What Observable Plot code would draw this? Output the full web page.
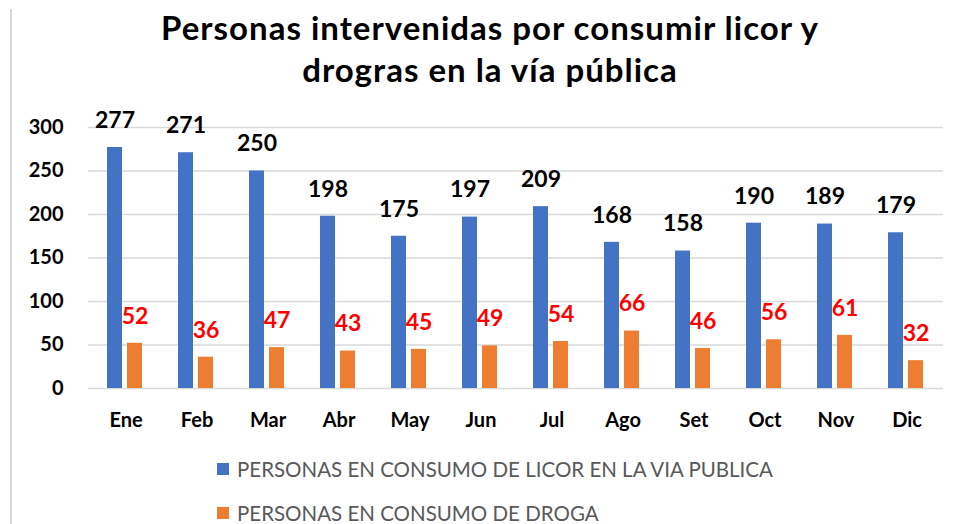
<!DOCTYPE html>
<html>
<head>
<meta charset="utf-8">
<script src="https://cdn.jsdelivr.net/npm/d3@7"></script>
<script src="https://cdn.jsdelivr.net/npm/@observablehq/plot@0.6"></script>
<style>
  html, body { margin: 0; padding: 0; background: #fff; }
  body { width: 961px; height: 524px; overflow: hidden; position: relative; font-family: Lato, "Open Sans", sans-serif; }
  #frame { position: absolute; left: 10px; top: 9px; width: 2px; height: 520px; background: #d9d9d9; }
  #title { position: absolute; left: 0; top: 6px; width: 980px; text-align: center; font-weight: bold; font-size: 33px; letter-spacing: 1px; line-height: 42px; color: #000; }
  #chart { position: absolute; left: 0; top: 100px; }
  #legend { position: absolute; left: 217px; top: 447px; font-size: 20.5px; color: #595959; }
  .row { height: 44px; display: flex; align-items: center; }
  .row span { line-height: 20px; }
  .sw { width: 12px; height: 12px; margin-right: 8px; }
</style>
</head>
<body>
<div id="frame"></div>
<div id="title">Personas intervenidas por consumir licor y<br>drogras en la vía pública</div>
<div id="chart"></div>
<div id="legend"></div>
<script>
const months = ["Ene","Feb","Mar","Abr","May","Jun","Jul","Ago","Set","Oct","Nov","Dic"];
const licor = [277,271,250,198,175,197,209,168,158,190,189,179];
const droga = [52,36,47,43,45,49,54,66,46,56,61,32];
const series = ["PERSONAS EN CONSUMO DE LICOR EN LA VIA PUBLICA", "PERSONAS EN CONSUMO DE DROGA"];
const colors = ["#4472C4", "#ED7D31"];
const labelColors = ["#000000", "#FF0000"];
const yTicks = [0, 50, 100, 150, 200, 250, 300];

const licorData = months.map((m, i) => ({month: m, value: licor[i]}));
const drogaData = months.map((m, i) => ({month: m, value: droga[i]}));

const chart = Plot.plot({
  width: 961,
  height: 333,
  marginTop: 27,
  marginBottom: 45,
  marginLeft: 88,
  marginRight: 18,
  style: {fontFamily: "Lato, sans-serif", background: "transparent"},
  x: {domain: months, padding: 0, label: null, axis: null},
  y: {domain: [0, 300], label: null, axis: null},
  marks: [
    Plot.gridY(yTicks, {stroke: "#d9d9d9", strokeOpacity: 1, strokeWidth: 1.5}),
    Plot.barY(licorData, {x: "month", y: "value", fill: colors[0], insetLeft: 17, insetRight: 39}),
    Plot.barY(drogaData, {x: "month", y: "value", fill: colors[1], insetLeft: 37, insetRight: 19}),
    Plot.text(licorData, {x: "month", y: "value", text: d => String(d.value), dx: -11, dy: -27,
      fill: labelColors[0], fontSize: 23, fontWeight: "bold", lineAnchor: "middle"}),
    Plot.text(drogaData, {x: "month", y: "value", text: d => String(d.value), dx: 9, dy: -27,
      fill: labelColors[1], fontSize: 23, fontWeight: "bold", lineAnchor: "middle"}),
    Plot.axisY(yTicks, {anchor: "left", tickSize: 0, tickPadding: 25, fontSize: 20, fontWeight: "bold", fill: "#000", label: null}),
    Plot.axisX({anchor: "bottom", tickSize: 0, tickPadding: 24, fontSize: 20, fontWeight: "bold", fill: "#000", label: null})
  ]
});
document.getElementById("chart").appendChild(chart);

const legend = document.getElementById("legend");
series.forEach((s, i) => {
  const row = document.createElement("div");
  row.className = "row";
  const sw = document.createElement("div");
  sw.className = "sw";
  sw.style.background = colors[i];
  const t = document.createElement("span");
  t.textContent = s;
  row.appendChild(sw);
  row.appendChild(t);
  legend.appendChild(row);
});
</script>
</body>
</html>
